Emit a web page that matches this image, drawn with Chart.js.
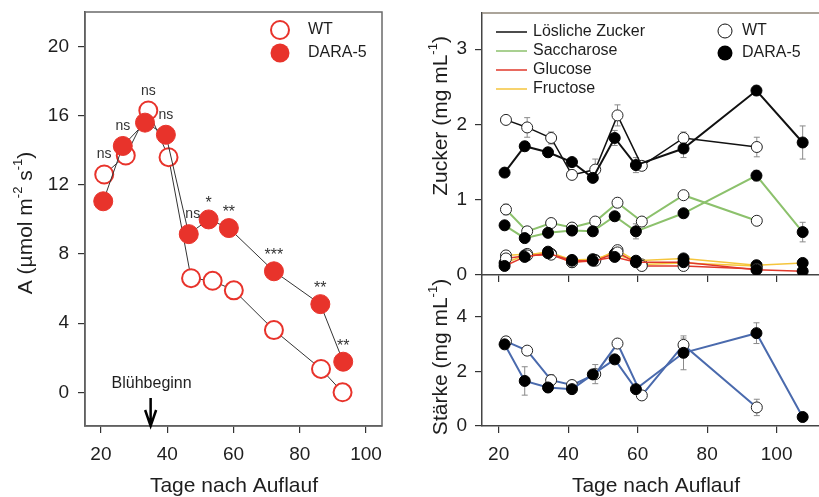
<!DOCTYPE html>
<html>
<head>
<meta charset="utf-8">
<title>Photosynthese und Zucker</title>
<script src="https://cdn.jsdelivr.net/npm/chart.js@4.4.1/dist/chart.umd.min.js"></script>
<style>
  html, body { margin: 0; padding: 0; background: #fff; }
  #wrap { position: relative; width: 819px; height: 497px; overflow: hidden; background: #fff; }
  .box { position: absolute; }
</style>
</head>
<body>
<div id="wrap">
  <div class="box" style="left:0;top:0;"><canvas id="photoChart" width="410" height="497"></canvas></div>
  <div class="box" style="left:410px;top:275px;"><canvas id="starchChart" width="409" height="222"></canvas></div>
  <div class="box" style="left:410px;top:0;"><canvas id="sugarChart" width="409" height="290"></canvas></div>
</div>
<script>
// ---- Daten: Photosyntheserate A (links) ----
const aDaysWT = [21, 27.5, 34.3, 40.4, 47.2, 53.7, 60.1, 72.2, 86.4, 92.9];
const aWT = [12.6, 13.7, 16.3, 13.6, 6.6, 6.45, 5.9, 3.6, 1.35, 0];
const aDaysDARA = [20.7, 26.6, 33.3, 39.6, 46.5, 52.5, 58.6, 72.2, 86.2, 93.1];
const aDARA = [11.05, 14.25, 15.6, 14.9, 9.15, 10.0, 9.5, 7.0, 5.1, 1.77];
const aSig = ['ns', 'ns', 'ns', 'ns', 'ns', '*', '**', '***', '**', '**'];
const aXTicks = [20, 40, 60, 80, 100];
const aYTicks = [0, 4, 8, 12, 16, 20];
const bloomDay = 35;

// ---- Daten: Zucker (rechts oben) ----
const sugarDaysWT = [22.1, 28.2, 35.1, 41.1, 47.8, 54.2, 61.2, 73.2, 94.3];
const sugarDaysDARA = [21.7, 27.5, 34.2, 41.1, 47.1, 53.4, 59.5, 73.2, 94.2, 107.5];
const solubleWT = [2.06, 1.96, 1.82, 1.33, 1.40, 2.12, 1.45, 1.82, 1.70];
const solubleWTErr = [0.05, 0.13, 0.08, 0.03, 0.14, 0.14, 0.05, 0.08, 0.13];
const solubleDARA = [1.36, 1.71, 1.63, 1.50, 1.29, 1.82, 1.46, 1.68, 2.45, 1.76];
const solubleDARAErr = [0.05, 0.06, 0.06, 0.04, 0.04, 0.1, 0.1, 0.12, 0.06, 0.22];
const sucroseWT = [0.87, 0.58, 0.69, 0.63, 0.71, 0.96, 0.71, 1.06, 0.72];
const sucroseWTErr = [0.07, 0.04, 0.03, 0.03, 0.03, 0.06, 0.04, 0.03, 0.03];
const sucroseDARA = [0.66, 0.49, 0.56, 0.59, 0.58, 0.78, 0.58, 0.82, 1.32, 0.57];
const sucroseDARAErr = [0.04, 0.04, 0.04, 0.04, 0.03, 0.04, 0.1, 0.03, 0.07, 0.13];
const glucoseWT = [0.22, 0.26, 0.27, 0.17, 0.19, 0.30, 0.12, 0.12, 0.08];
const glucoseDARA = [0.12, 0.24, 0.29, 0.19, 0.19, 0.24, 0.17, 0.17, 0.07, 0.05];
const fructoseWT = [0.26, 0.28, 0.28, 0.17, 0.20, 0.33, 0.14, 0.16, 0.12];
const fructoseDARA = [0.16, 0.26, 0.31, 0.20, 0.21, 0.28, 0.19, 0.22, 0.13, 0.16];

// ---- Daten: Stärke (rechts unten) ----
const starchWT = [3.10, 2.76, 1.68, 1.50, 1.90, 3.02, 1.12, 2.97, 0.68];
const starchWTErr = [0.15, 0.05, 0.2, 0.08, 0.35, 0.1, 0.05, 0.25, 0.3];
const starchDARA = [2.99, 1.65, 1.41, 1.35, 1.89, 2.44, 1.35, 2.68, 3.40, 0.33];
const starchDARAErr = [0.1, 0.52, 0.15, 0.1, 0.1, 0.1, 0.1, 0.62, 0.38, 0.05];

const sugarXTicks = [20, 40, 60, 80, 100];
const sugarYTicks = [0, 1, 2, 3];
const starchYTicks = [0, 2, 4];

const FONT = '"Liberation Sans", Arial, sans-serif';
const RED = '#e8332b';
const GREEN = '#8cc16c';
const GLU = '#e0392b';
const FRU = '#f5c53c';
const BLUE = '#4a6aad';

function pts(xs, ys) {
    return xs.map((x, i) => ({ x: x, y: ys[i] }));
}

function fixedTicks(list) {
    return function(scale) {
        scale.ticks = list.map(v => ({ value: v }));
    };
}

// Text mit Hochstellungen, optional gedreht
function drawRich(ctx, parts, x, y, rotate, size) {
    ctx.save();
    ctx.translate(x, y);
    if (rotate) ctx.rotate(-Math.PI / 2);
    const supSize = Math.round(size * 0.62);
    let total = 0;
    parts.forEach(p => {
        ctx.font = (p.sup ? supSize : size) + 'px ' + FONT;
        total += ctx.measureText(p.t).width;
    });
    let cx = -total / 2;
    ctx.textAlign = 'left';
    ctx.textBaseline = 'middle';
    ctx.fillStyle = '#1e1e1e';
    parts.forEach(p => {
        ctx.font = (p.sup ? supSize : size) + 'px ' + FONT;
        ctx.fillText(p.t, cx, p.sup ? -size * 0.38 : 0);
        cx += ctx.measureText(p.t).width;
    });
    ctx.restore();
}

// Fehlerbalken hinter den Punkten
const errorBars = {
    id: 'errorBars',
    beforeDatasetsDraw(chart) {
        const ctx = chart.ctx;
        const xs = chart.scales.x, ys = chart.scales.y;
        ctx.save();
        ctx.strokeStyle = '#8a8a8a';
        ctx.lineWidth = 1;
        chart.data.datasets.forEach(ds => {
            if (!ds.errors) return;
            ds.data.forEach((p, i) => {
                const e = ds.errors[i];
                if (!e) return;
                const px = xs.getPixelForValue(p.x);
                const y1 = ys.getPixelForValue(p.y + e);
                const y2 = ys.getPixelForValue(p.y - e);
                ctx.beginPath();
                ctx.moveTo(px, y1); ctx.lineTo(px, y2);
                ctx.moveTo(px - 3, y1); ctx.lineTo(px + 3, y1);
                ctx.moveTo(px - 3, y2); ctx.lineTo(px + 3, y2);
                ctx.stroke();
            });
        });
        ctx.restore();
    }
};

function axisY(min, max, ticks, width, pad) {
    return {
        type: 'linear', min: min, max: max,
        afterBuildTicks: fixedTicks(ticks),
        afterFit: s => { s.width = width; s.paddingTop = 0; s.paddingBottom = 0; },
        grid: { drawOnChartArea: false, tickLength: 7, color: '#333', lineWidth: 1.2 },
        border: { color: '#444', width: 1.5 },
        ticks: { padding: pad, color: '#1e1e1e', font: { family: FONT, size: 19 } }
    };
}

function axisX(min, max, ticks, height, showLabels) {
    return {
        type: 'linear', min: min, max: max,
        afterBuildTicks: fixedTicks(ticks),
        afterFit: s => { s.height = height; s.paddingLeft = 0; s.paddingRight = 0; },
        grid: { drawOnChartArea: false, tickLength: 7, color: '#333', lineWidth: 1.2 },
        border: { color: '#444', width: 1.5 },
        ticks: {
            padding: 10, color: '#1e1e1e', font: { family: FONT, size: 19 },
            callback: v => showLabels ? v : ''
        }
    };
}

// ---------------- Linkes Diagramm ----------------
const photoDecor = {
    id: 'photoDecor',
    afterDraw(chart) {
        const ctx = chart.ctx;
        const a = chart.chartArea;
        const xs = chart.scales.x, ys = chart.scales.y;
        ctx.save();
        // Rahmen
        ctx.strokeStyle = '#6a6a6a';
        ctx.lineWidth = 1.5;
        ctx.strokeRect(a.left, a.top, a.right - a.left, a.bottom - a.top);

        // Signifikanz
        ctx.fillStyle = '#333';
        ctx.textAlign = 'center';
        ctx.textBaseline = 'alphabetic';
        aSig.forEach((s, i) => {
            const useWT = aWT[i] > aDARA[i];
            const px = xs.getPixelForValue(useWT ? aDaysWT[i] : aDaysDARA[i]);
            const py = ys.getPixelForValue(Math.max(aWT[i], aDARA[i])) - 20;
            if (s === 'ns') {
                ctx.font = '14px ' + FONT;
                ctx.fillText(s, px + (i === 4 ? 4 : 0), py + 4);
            } else {
                ctx.font = '16px ' + FONT;
                ctx.fillText(s, px, py + 9);
            }
        });

        // Blühbeginn
        const bx = xs.getPixelForValue(bloomDay);
        ctx.fillStyle = '#1e1e1e';
        ctx.font = '16px ' + FONT;
        ctx.textBaseline = 'middle';
        ctx.fillText('Blühbeginn', bx + 1, 384);
        ctx.strokeStyle = '#000';
        ctx.lineWidth = 2.5;
        ctx.beginPath();
        ctx.moveTo(bx, 398); ctx.lineTo(bx, a.bottom);
        ctx.moveTo(bx - 5.5, 410); ctx.lineTo(bx, a.bottom); ctx.lineTo(bx + 5.5, 410);
        ctx.stroke();

        // Legende
        ctx.lineWidth = 2;
        ctx.strokeStyle = RED;
        ctx.fillStyle = '#fff';
        ctx.beginPath(); ctx.arc(280, 30, 9, 0, Math.PI * 2); ctx.fill(); ctx.stroke();
        ctx.fillStyle = RED;
        ctx.beginPath(); ctx.arc(280, 53, 9.5, 0, Math.PI * 2); ctx.fill();
        ctx.fillStyle = '#1e1e1e';
        ctx.font = '16px ' + FONT;
        ctx.textAlign = 'left';
        ctx.fillText('WT', 308, 30);
        ctx.fillText('DARA-5', 308, 53);

        // Achsentitel
        drawRich(ctx, [
            { t: 'A (µmol m' }, { t: '-2', sup: true }, { t: ' s' }, { t: '-1', sup: true }, { t: ')' }
        ], 26, 223, true, 21);
        drawRich(ctx, [{ t: 'Tage nach Auflauf' }], 234, 486, false, 21);
        ctx.restore();
    }
};

new Chart(document.getElementById('photoChart'), {
    type: 'line',
    data: {
        datasets: [
            {
                label: 'DARA-5', data: pts(aDaysDARA, aDARA),
                borderColor: '#333', borderWidth: 1, pointRadius: 9.5,
                pointBackgroundColor: RED, pointBorderColor: RED, pointBorderWidth: 1
            },
            {
                label: 'WT', data: pts(aDaysWT, aWT),
                borderColor: '#333', borderWidth: 1, pointRadius: 9,
                pointBackgroundColor: '#fff', pointBorderColor: RED, pointBorderWidth: 2
            }
        ]
    },
    options: {
        responsive: false, animation: false,
        layout: { autoPadding: false, padding: { top: 12, right: 28, left: 0, bottom: 0 } },
        plugins: { legend: { display: false }, tooltip: { enabled: false } },
        scales: {
            x: axisX(15.2, 104.8, aXTicks, 71, true),
            y: axisY(-1.95, 22, aYTicks, 85, 9)
        }
    },
    plugins: [photoDecor]
});

// ---------------- Rechts oben: Zucker ----------------
const sugarDecor = {
    id: 'sugarDecor',
    afterDraw(chart) {
        const ctx = chart.ctx;
        const a = chart.chartArea;
        ctx.save();
        ctx.strokeStyle = '#8f8678';
        ctx.lineWidth = 1.5;
        ctx.beginPath();
        ctx.moveTo(a.left, a.top); ctx.lineTo(a.right, a.top);
        ctx.stroke();

        // Legende Linien
        const rows = [
            ['Lösliche Zucker', '#111', 32],
            ['Saccharose', GREEN, 51],
            ['Glucose', GLU, 70],
            ['Fructose', FRU, 89]
        ];
        ctx.font = '16px ' + FONT;
        ctx.textAlign = 'left';
        ctx.textBaseline = 'middle';
        rows.forEach(r => {
            ctx.strokeStyle = r[1];
            ctx.lineWidth = 1.5;
            ctx.beginPath(); ctx.moveTo(86, r[2]); ctx.lineTo(117, r[2]); ctx.stroke();
            ctx.fillStyle = '#1e1e1e';
            ctx.fillText(r[0], 123, r[2]);
        });
        // Legende Symbole
        ctx.strokeStyle = '#111';
        ctx.lineWidth = 1;
        ctx.fillStyle = '#fff';
        ctx.beginPath(); ctx.arc(315, 31, 7, 0, Math.PI * 2); ctx.fill(); ctx.stroke();
        ctx.fillStyle = '#000';
        ctx.beginPath(); ctx.arc(315, 53, 7.5, 0, Math.PI * 2); ctx.fill();
        ctx.fillStyle = '#1e1e1e';
        ctx.fillText('WT', 332, 31);
        ctx.fillText('DARA-5', 332, 53);

        drawRich(ctx, [{ t: 'Zucker (mg mL' }, { t: '-1', sup: true }, { t: ')' }], 31, 116, true, 21);
        ctx.restore();
    }
};

function sugarSet(label, xs, ys, errs, color, wt, width) {
    return {
        label: label, data: pts(xs, ys), errors: errs,
        borderColor: color, borderWidth: width,
        pointRadius: 5.5,
        pointBackgroundColor: wt ? '#fff' : '#000',
        pointBorderColor: wt ? '#222' : '#000',
        pointBorderWidth: 1
    };
}

new Chart(document.getElementById('sugarChart'), {
    type: 'line',
    data: {
        datasets: [
            sugarSet('Lösliche DARA-5', sugarDaysDARA, solubleDARA, solubleDARAErr, '#111', false, 2),
            sugarSet('Lösliche WT', sugarDaysWT, solubleWT, solubleWTErr, '#111', true, 1.5),
            sugarSet('Saccharose DARA-5', sugarDaysDARA, sucroseDARA, sucroseDARAErr, GREEN, false, 2),
            sugarSet('Saccharose WT', sugarDaysWT, sucroseWT, sucroseWTErr, GREEN, true, 2),
            sugarSet('Glucose DARA-5', sugarDaysDARA, glucoseDARA, null, GLU, false, 1.5),
            sugarSet('Glucose WT', sugarDaysWT, glucoseWT, null, GLU, true, 1.5),
            sugarSet('Fructose DARA-5', sugarDaysDARA, fructoseDARA, null, FRU, false, 1.5),
            sugarSet('Fructose WT', sugarDaysWT, fructoseWT, null, FRU, true, 1.5)
        ]
    },
    options: {
        responsive: false, animation: false,
        layout: { autoPadding: false, padding: { top: 13, right: 0, left: 0, bottom: 0 } },
        plugins: { legend: { display: false }, tooltip: { enabled: false } },
        scales: {
            x: axisX(15.2, 112.2, sugarXTicks, 15, false),
            y: axisY(0, 3.48, sugarYTicks, 72, 8)
        }
    },
    plugins: [errorBars, sugarDecor]
});

// ---------------- Rechts unten: Stärke ----------------
const starchDecor = {
    id: 'starchDecor',
    afterDraw(chart) {
        const ctx = chart.ctx;
        ctx.save();
        drawRich(ctx, [{ t: 'Stärke (mg mL' }, { t: '-1', sup: true }, { t: ')' }], 31, 82, true, 21);
        drawRich(ctx, [{ t: 'Tage nach Auflauf' }], 246, 211, false, 21);
        ctx.restore();
    }
};

new Chart(document.getElementById('starchChart'), {
    type: 'line',
    data: {
        datasets: [
            sugarSet('Stärke DARA-5', sugarDaysDARA, starchDARA, starchDARAErr, BLUE, false, 2),
            sugarSet('Stärke WT', sugarDaysWT, starchWT, starchWTErr, BLUE, true, 2)
        ]
    },
    options: {
        responsive: false, animation: false,
        layout: { autoPadding: false, padding: { top: 0, right: 0, left: 0, bottom: 0 } },
        plugins: { legend: { display: false }, tooltip: { enabled: false } },
        scales: {
            x: axisX(15.2, 112.2, sugarXTicks, 71, true),
            y: axisY(0, 5.53, starchYTicks, 72, 8)
        }
    },
    plugins: [errorBars, starchDecor]
});
</script>
</body>
</html>
